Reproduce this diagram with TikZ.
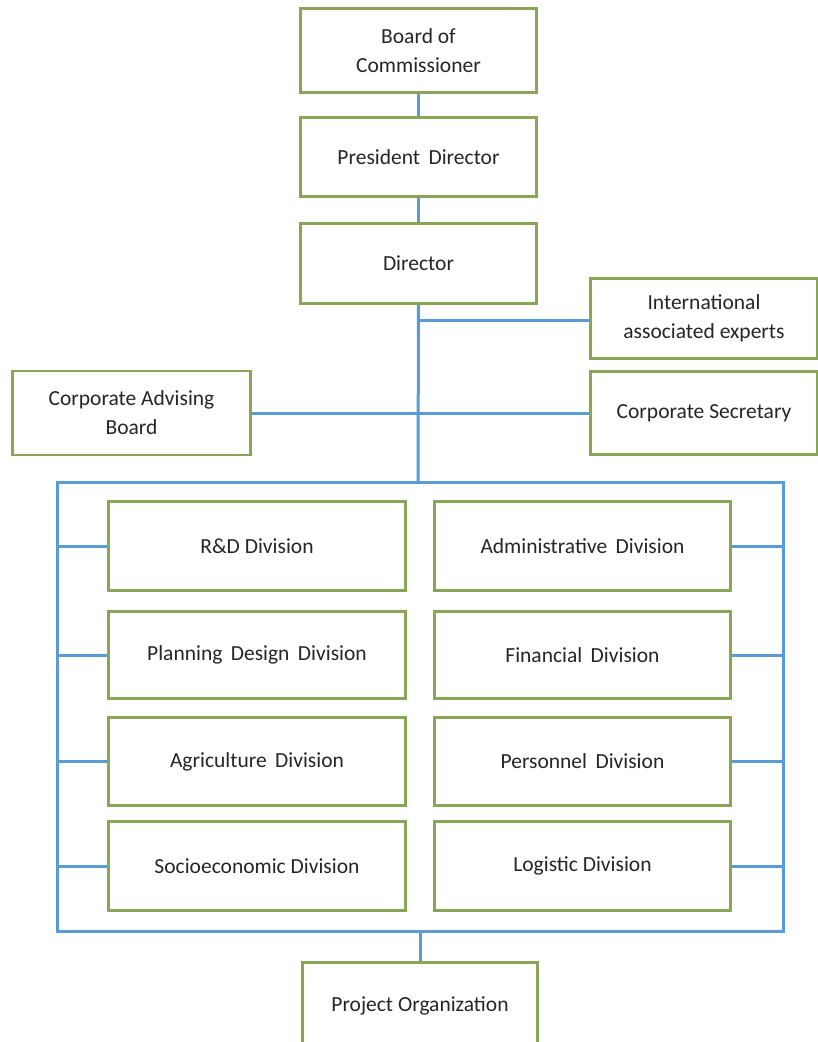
\documentclass[tikz,border=0pt]{standalone}
\usepackage{fontspec}
\setmainfont{Carlito}
\definecolor{boxgreen}{HTML}{8BA556}
\definecolor{lineblue}{HTML}{5B9BD5}
\begin{document}
\begin{tikzpicture}[x=1pt,y=-1pt,
  box/.style={draw=boxgreen, line width=1.8pt, fill=white, align=center, inner sep=0pt,
              font=\fontsize{21.5}{29}\selectfont, text=black!85},
  link/.style={draw=lineblue, line width=3pt}]
\useasboundingbox (0,0) rectangle (818,1042);
\fill[white] (0,0) rectangle (818,1042);
\clip (0,0) rectangle (818,1042);

% frame of divisions
\coordinate (fNW) at (57,482);
\coordinate (fSE) at (783,931);
\coordinate (ftop) at (418,482);
\coordinate (fbot) at (420,931);
\coordinate (tj) at (418,320);
\draw[link] (fNW) rectangle (fSE);

% nodes
\node[box, minimum width=235pt, minimum height=83pt] (board) at (418.5,50.5) {Board of\\Commissioner};
\node[box, minimum width=235pt, minimum height=78pt] (pres) at (418.5,157) {President\, Director};
\node[box, minimum width=235pt, minimum height=79pt] (dir) at (418.5,263.5) {Director};
\node[box, minimum width=226pt, minimum height=79pt] (intl) at (704,318.5) {International\\associated experts};
\node[box, minimum width=237pt, minimum height=83pt] (adv) at (131.5,413) {Corporate Advising\\Board};
\node[box, minimum width=226pt, minimum height=82pt] (sec) at (704,413) {Corporate Secretary};

\node[box, minimum width=296pt, minimum height=88pt] (rd) at (257,546) {R\&D Division};
\node[box, minimum width=296pt, minimum height=86pt] (plan) at (257,655) {Planning\, Design\, Division};
\node[box, minimum width=296pt, minimum height=87pt] (agri) at (257,761.5) {Agriculture\, Division};
\node[box, minimum width=296pt, minimum height=88pt] (socio) at (257,866) {Socioeconomic Division};

\node[box, minimum width=295pt, minimum height=88pt] (adm) at (582.5,546) {Administrative\, Division};
\node[box, minimum width=295pt, minimum height=86pt] (fin) at (582.5,655) {Financial\, Division};
\node[box, minimum width=295pt, minimum height=87pt] (pers) at (582.5,761.5) {Personnel\, Division};
\node[box, minimum width=295pt, minimum height=88pt] (logi) at (582.5,866) {Logistic Division};

\node[box, minimum width=234pt, minimum height=86pt] (proj) at (420,1006) {Project Organization};

% connectors
\draw[link] (board.south) -- (pres.north);
\draw[link] (pres.south) -- (dir.north);
\draw[link] (dir.south) -- (ftop);
\draw[link] (tj) -- (intl.west |- tj);
\draw[link] (adv.east) -- (sec.west);
\draw[link] (fbot) -- (proj.north);
\foreach \n in {rd,plan,agri,socio}{\draw[link] (\n.west) -- (\n.west -| fNW);}
\foreach \n in {adm,fin,pers,logi}{\draw[link] (\n.east) -- (\n.east -| fSE);}

% redraw box borders over connector ends
\foreach \n in {board,pres,dir,intl,adv,sec,rd,plan,agri,socio,adm,fin,pers,logi,proj}{
  \draw[boxgreen, line width=1.8pt] (\n.north west) rectangle (\n.south east);}
\end{tikzpicture}
\end{document}
